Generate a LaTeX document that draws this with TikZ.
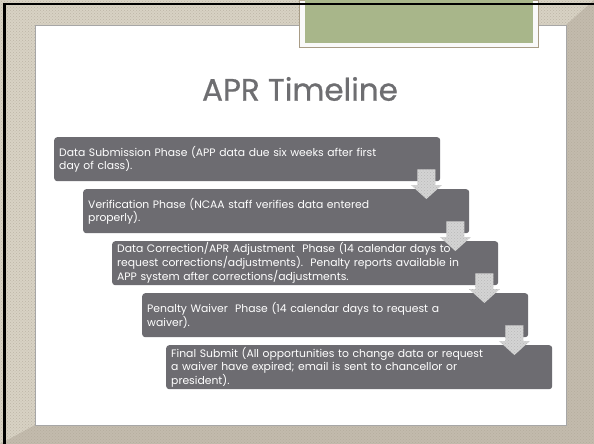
\documentclass[tikz,border=0pt]{standalone}
\usepackage{fontspec}
\usetikzlibrary{calc,patterns}
\newfontfamily\slidefont{Poppins}
\newfontfamily\titlefont[FakeBold=0.7]{Poppins}
\definecolor{frameLight}{HTML}{D8D2C4}
\definecolor{frameDark}{HTML}{C3BBAD}
\definecolor{frameDots}{HTML}{ABA393}
\definecolor{tabGreen}{HTML}{A8B68A}
\definecolor{tabEdge}{HTML}{A89C86}
\definecolor{boxGray}{HTML}{6D6C71}
\definecolor{titleGray}{HTML}{6E6E71}
\definecolor{arrowGray}{HTML}{D4D4D4}
\tikzset{
    phase/.style={fill=boxGray, rounded corners=3pt, anchor=north west,
        text=white, font=\slidefont\fontsize{10.8}{12.5}\selectfont,
        text width=376pt, inner xsep=5pt, inner ysep=0pt,
        minimum height=44pt, align=left},
    arrowfill/.style={fill=arrowGray},
    arrowdots/.style={pattern=crosshatch dots, pattern color=gray!55},
}
% block arrow from the bottom of box #1 into box #2
\newcommand\StepArrow[2]{%
    \coordinate (#1top) at ($(#1.south east)+(-14,-12)$);
    \coordinate (#1tip) at ($(#1top |- #2.north)+(0,10)$);
    \foreach \look in {arrowfill,arrowdots}
        \path[\look] ($(#1top)+(-9,0)$) -- ($(#1top)+(9,0)$)
            -- ($(#1tip)+(9,-14)$) -- ($(#1tip)+(15.5,-14)$) -- (#1tip)
            -- ($(#1tip)+(-15.5,-14)$) -- ($(#1tip)+(-9,-14)$) -- cycle;
}

\begin{document}
\begin{tikzpicture}[x=1pt,y=-1pt]
    \useasboundingbox (0,0) rectangle (594,444);
    % frame
    \fill[frameLight] (0,0) rectangle (594,444);
    \fill[frameDark] (566,25) -- (594,0) -- (594,444) -- (0,444) -- (35,425) -- (566,425) -- cycle;
    \fill[pattern=crosshatch dots, pattern color=frameDots, opacity=0.6] (0,0) rectangle (594,444);
    \filldraw[fill=white, draw=gray!70] (35,25) rectangle (566,425);
    % tab
    \filldraw[fill=white!95!gray, draw=tabEdge] (299,0) rectangle (538,47);
    \fill[tabGreen] (305,0) rectangle (533,43);
    \fill[black] (3,3) rectangle (594,5.5);
    \fill[black] (3,3) rectangle (6,444);
    \node[text=titleGray, font=\titlefont\fontsize{31}{33}\selectfont] (title) at (300,89) {APR Timeline};

    \node[phase] (b1) at (54,137) {Data Submission Phase (APP data due six weeks after first\\day of class).};
    \node[phase] (b2) at (83,189) {Verification Phase (NCAA staff verifies data entered\\properly).};
    \node[phase] (b3) at (112,241) {Data Correction/APR Adjustment\ \ Phase (14 calendar days to\\request corrections/adjustments).\ \ Penalty reports available in\\APP system after corrections/adjustments.};
    \node[phase] (b4) at (142,293) {Penalty Waiver\ \ Phase (14 calendar days to request a\\waiver).};
    \node[phase] (b5) at (166,345) {Final Submit (All opportunities to change data or request\\a waiver have expired; email is sent to chancellor or\\president).};

    \StepArrow{b1}{b2}
    \StepArrow{b2}{b3}
    \StepArrow{b3}{b4}
    \StepArrow{b4}{b5}
\end{tikzpicture}
\end{document}
